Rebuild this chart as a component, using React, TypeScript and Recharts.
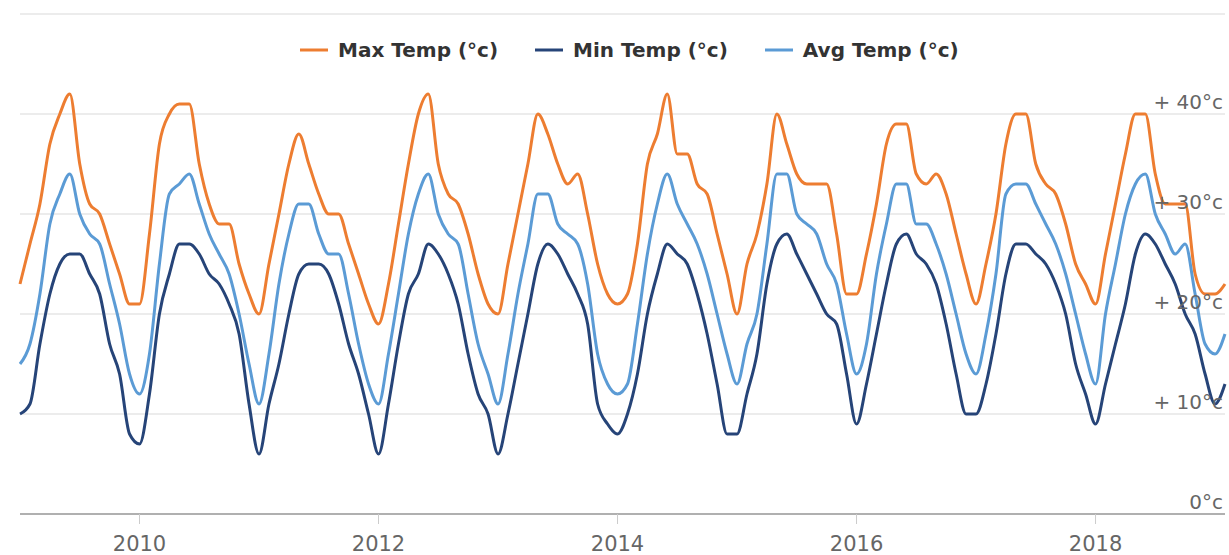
import React from "react";
import { LineChart, Line, XAxis, YAxis, CartesianGrid, Legend } from "recharts";

const startYear = 2009;
const monthCount = 122;

const maxTemp = [
  23, 27, 31, 37, 40, 42, 35, 31, 30, 27, 24, 21,
  21, 28, 37, 40, 41, 41, 35, 31, 29, 29, 25, 22,
  20, 25, 30, 35, 38, 35, 32, 30, 30, 27, 24, 21,
  19, 23, 29, 35, 40, 42, 35, 32, 31, 28, 24, 21,
  20, 25, 30, 35, 40, 38, 35, 33, 34, 30, 25, 22,
  21, 22, 27, 35, 38, 42, 36, 36, 33, 32, 28, 24,
  20, 25, 28, 33, 40, 37, 34, 33, 33, 33, 28, 22,
  22, 26, 31, 37, 39, 39, 34, 33, 34, 32, 28, 24,
  21, 25, 30, 37, 40, 40, 35, 33, 32, 29, 25, 23,
  21, 26, 31, 36, 40, 40, 34, 31, 31, 31, 24, 22,
  22, 23,
];

const minTemp = [
  10, 11, 17, 22, 25, 26, 26, 24, 22, 17, 14, 8,
  7, 12, 20, 24, 27, 27, 26, 24, 23, 21, 18, 11,
  6, 11, 15, 20, 24, 25, 25, 24, 21, 17, 14, 10,
  6, 11, 17, 22, 24, 27, 26, 24, 21, 16, 12, 10,
  6, 10, 15, 20, 25, 27, 26, 24, 22, 19, 11, 9,
  8, 10, 14, 20, 24, 27, 26, 25, 22, 18, 13, 8,
  8, 12, 16, 23, 27, 28, 26, 24, 22, 20, 19, 14,
  9, 13, 18, 23, 27, 28, 26, 25, 23, 19, 14, 10,
  10, 13, 18, 24, 27, 27, 26, 25, 23, 20, 15, 12,
  9, 13, 17, 21, 26, 28, 27, 25, 23, 20, 18, 14,
  11, 13,
];

const avgTemp = [
  15, 17, 22, 29, 32, 34, 30, 28, 27, 23, 19, 14,
  12, 16, 25, 32, 33, 34, 31, 28, 26, 24, 20, 15,
  11, 16, 23, 28, 31, 31, 28, 26, 26, 22, 17, 13,
  11, 16, 22, 28, 32, 34, 30, 28, 27, 22, 17, 14,
  11, 16, 22, 27, 32, 32, 29, 28, 27, 23, 16, 13,
  12, 13, 19, 26, 31, 34, 31, 29, 27, 24, 20, 16,
  13, 17, 20, 27, 34, 34, 30, 29, 28, 25, 23, 18,
  14, 17, 24, 29, 33, 33, 29, 29, 27, 24, 20, 16,
  14, 18, 24, 32, 33, 33, 31, 29, 27, 24, 20, 16,
  13, 20, 25, 30, 33, 34, 30, 28, 26, 27, 22, 17,
  16, 18,
];

const months: string[] = [];
for (let i = 0; i < monthCount; i++) {
  const y = startYear + Math.floor(i / 12);
  const m = (i % 12) + 1;
  months.push(`${y}-${m < 10 ? "0" + m : m}`);
}

const xTicks = ["2010-01", "2012-01", "2014-01", "2016-01", "2018-01"];
const yTicks = [0, 10, 20, 30, 40, 50];
const yTickLabels = ["0°c", "+ 10°c", "+ 20°c", "+ 30°c", "+ 40°c", ""];

const seriesNames = ["Max Temp (°c)", "Min Temp (°c)", "Avg Temp (°c)"];
const seriesColors = ["#ED7D31", "#264478", "#5B9BD5"];

const data = months.map((month, i) => ({
  month,
  max: maxTemp[i],
  min: minTemp[i],
  avg: avgTemp[i],
}));

const FONT = "'DejaVu Sans', sans-serif";

const YTick = (props: any) => {
  const { x, y, payload } = props;
  const idx = yTicks.indexOf(payload.value);
  const label = idx >= 0 ? yTickLabels[idx] : "";
  if (!label) return null;
  return (
    <text x={x} y={y - 5} textAnchor="end" fill="#666666" fontSize={20} fontFamily={FONT}>
      {label}
    </text>
  );
};

const LegendContent = (props: any) => {
  const payload = [...(props.payload || [])].sort(
    (a: any, b: any) => seriesNames.indexOf(a.value) - seriesNames.indexOf(b.value)
  );
  return (
    <div style={{ display: "flex", alignItems: "center", fontFamily: FONT }}>
      {payload.map((entry: any, i: number) => (
        <div key={i} style={{ display: "flex", alignItems: "center", marginRight: 37 }}>
          <svg width={28} height={26} style={{ marginRight: 10 }}>
            <line x1={0} y1={13} x2={28} y2={13} stroke={entry.color} strokeWidth={3} />
          </svg>
          <span style={{ fontWeight: "bold", fontSize: 20, color: "#333333", lineHeight: "26px" }}>
            {entry.value}
          </span>
        </div>
      ))}
    </div>
  );
};

export default function App() {
  return (
    <div style={{ position: "absolute", left: 0, top: 0, width: 1229, height: 555, background: "#fff" }}>
      <LineChart width={1229} height={555} data={data} margin={{ top: 14, right: 4, left: 20, bottom: 0 }}>
        <CartesianGrid vertical={false} stroke="#e6e6e6" strokeWidth={1.5} />
        <XAxis
          dataKey="month"
          ticks={xTicks}
          interval={0}
          tickFormatter={(v: string) => v.slice(0, 4)}
          height={41}
          tickSize={10}
          tickMargin={12}
          stroke="#b5b5b5"
          axisLine={{ stroke: "#b0b0b0", strokeWidth: 2 }}
          tickLine={{ stroke: "#cccccc", strokeWidth: 1 }}
          tick={{ fill: "#666666", fontSize: 21, fontFamily: FONT }}
        />
        <YAxis
          orientation="right"
          mirror
          domain={[0, 50]}
          ticks={yTicks}
          interval={0}
          axisLine={false}
          tickLine={false}
          tickSize={0}
          tickMargin={2}
          tick={<YTick />}
        />
        <Legend
          verticalAlign="middle"
          align="center"
          content={<LegendContent />}
          wrapperStyle={{ top: 37, left: 300, width: 760 }}
        />
        <Line type="monotone" dataKey="max" name={seriesNames[0]} stroke={seriesColors[0]} strokeWidth={3} dot={false} isAnimationActive={false} />
        <Line type="monotone" dataKey="min" name={seriesNames[1]} stroke={seriesColors[1]} strokeWidth={3} dot={false} isAnimationActive={false} />
        <Line type="monotone" dataKey="avg" name={seriesNames[2]} stroke={seriesColors[2]} strokeWidth={3} dot={false} isAnimationActive={false} />
      </LineChart>
    </div>
  );
}
